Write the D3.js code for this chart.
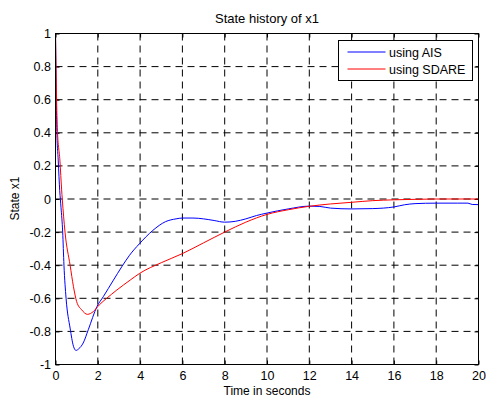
<!DOCTYPE html>
<html>
<head>
<meta charset="utf-8">
<script src="https://cdn.jsdelivr.net/npm/d3@7"></script>
<style>
    body { margin: 0; background: #fff; }
    svg { display: block; font-family: "Liberation Sans", Arial, sans-serif; }
</style>
</head>
<body>
<div id="chart"></div>
<script>
const aisTime = [0, 0.06, 0.13, 0.2, 0.26, 0.34, 0.4, 0.5, 0.69, 0.85, 0.97, 1.1, 1.31, 1.55, 1.96, 2.26, 2.74, 3.13, 3.5, 3.97, 4.6, 5.2, 5.7, 6, 6.5, 7, 7.5, 8, 8.5, 9, 9.5, 10, 11, 12, 12.5, 13, 14, 15, 16, 16.5, 17, 18, 19, 19.5, 19.7, 20];
const aisState = [1, 0.43, 0.23, 0.05, -0.05, -0.2, -0.4, -0.6, -0.78, -0.89, -0.915, -0.905, -0.87, -0.79, -0.65, -0.59, -0.49, -0.41, -0.34, -0.27, -0.19, -0.137, -0.12, -0.115, -0.115, -0.12, -0.13, -0.14, -0.135, -0.12, -0.1, -0.085, -0.06, -0.043, -0.045, -0.055, -0.06, -0.058, -0.048, -0.035, -0.028, -0.025, -0.025, -0.025, -0.033, -0.034];

const sdareTime = [0, 0.085, 0.21, 0.29, 0.32, 0.45, 0.69, 0.85, 1.0, 1.24, 1.51, 1.79, 2.07, 2.42, 2.9, 3.53, 3.97, 5, 6, 7, 8, 9, 10, 11, 12, 13, 14, 15, 16, 17, 18, 20];
const sdareState = [1, 0.43, 0.23, 0.055, 0, -0.2, -0.4, -0.53, -0.62, -0.67, -0.697, -0.68, -0.64, -0.6, -0.55, -0.49, -0.45, -0.385, -0.33, -0.265, -0.2, -0.14, -0.093, -0.065, -0.044, -0.03, -0.02, -0.01, -0.005, -0.002, 0, 0];

const xTicks = [0, 2, 4, 6, 8, 10, 12, 14, 16, 18, 20];
const yTicks = [-1, -0.8, -0.6, -0.4, -0.2, 0, 0.2, 0.4, 0.6, 0.8, 1];
const seriesNames = ['using AIS', 'using SDARE'];
const seriesColors = ['#0000ff', '#ff0000'];

const width = 487;
const height = 396;
const margin = { top: 33.5, right: 8.5, bottom: 31.5, left: 55.5 };

const svg = d3.select('#chart')
    .append('svg')
    .attr('width', width)
    .attr('height', height)
    .attr('viewBox', [0, 0, width, height]);

const x = d3.scaleLinear().domain([0, 20]).range([margin.left, width - margin.right]);
const y = d3.scaleLinear().domain([-1, 1]).range([height - margin.bottom, margin.top]);

// dashed grid
const grid = svg.append('g')
    .attr('stroke', '#000')
    .attr('stroke-width', 1)
    .attr('stroke-dasharray', '7,5');

grid.selectAll('.gx')
    .data(xTicks.slice(1, -1))
    .join('line')
    .attr('x1', d => x(d)).attr('x2', d => x(d))
    .attr('y1', y(1)).attr('y2', y(-1));

grid.selectAll('.gy')
    .data(yTicks.slice(1, -1))
    .join('line')
    .attr('y1', d => y(d)).attr('y2', d => y(d))
    .attr('x1', x(0)).attr('x2', x(20));

// axes (ticks point inward, like MATLAB)
const tickLen = 4;
const plain = d => String(d);

svg.append('g')
    .attr('transform', `translate(0,${y(-1)})`)
    .call(d3.axisBottom(x).tickValues(xTicks).tickFormat(plain).tickSizeInner(-tickLen).tickSizeOuter(0).tickPadding(6.5))
    .call(g => g.select('.domain').remove());

svg.append('g')
    .attr('transform', `translate(0,${y(1)})`)
    .call(d3.axisTop(x).tickValues(xTicks).tickSizeInner(-tickLen).tickSizeOuter(0).tickFormat(''))
    .call(g => g.select('.domain').remove());

svg.append('g')
    .attr('transform', `translate(${x(0)},0)`)
    .call(d3.axisLeft(y).tickValues(yTicks).tickFormat(plain).tickSizeInner(-tickLen).tickSizeOuter(0).tickPadding(4.5))
    .call(g => g.select('.domain').remove());

svg.append('g')
    .attr('transform', `translate(${x(20)},0)`)
    .call(d3.axisRight(y).tickValues(yTicks).tickSizeInner(-tickLen).tickSizeOuter(0).tickFormat(''))
    .call(g => g.select('.domain').remove());

svg.selectAll('.tick text')
    .attr('font-size', 12.5)
    .attr('fill', '#000')
    .attr('font-family', '"Liberation Sans", Arial, sans-serif');
svg.selectAll('.tick line').attr('stroke', '#000');

// curves
const line = d3.line()
    .x(d => x(d[0]))
    .y(d => y(d[1]))
    .curve(d3.curveMonotoneX);

const series = [
    d3.zip(aisTime, aisState),
    d3.zip(sdareTime, sdareState)
];

svg.append('g')
    .attr('fill', 'none')
    .attr('stroke-width', 1)
    .selectAll('path')
    .data(series)
    .join('path')
    .attr('stroke', (d, i) => seriesColors[i])
    .attr('d', line);

// plot box
svg.append('rect')
    .attr('x', x(0))
    .attr('y', y(1))
    .attr('width', x(20) - x(0))
    .attr('height', y(-1) - y(1))
    .attr('fill', 'none')
    .attr('stroke', '#000')
    .attr('stroke-width', 1);

// legend
const legend = svg.append('g').attr('transform', 'translate(338.5,40.5)');
legend.append('rect')
    .attr('width', 134)
    .attr('height', 40)
    .attr('fill', '#fff')
    .attr('stroke', '#000');

const items = legend.selectAll('g')
    .data(seriesNames)
    .join('g')
    .attr('transform', (d, i) => `translate(0,${11.5 + i * 17})`);

items.append('line')
    .attr('x1', 9).attr('x2', 47)
    .attr('stroke', (d, i) => seriesColors[i]);

items.append('text')
    .attr('x', 50.5)
    .attr('y', 4.5)
    .attr('font-size', 12.5)
    .text(d => d);

// labels
svg.append('text')
    .attr('x', (x(0) + x(20)) / 2)
    .attr('y', 23.3)
    .attr('text-anchor', 'middle')
    .attr('font-size', 13)
    .text('State history of x1');

svg.append('text')
    .attr('x', (x(0) + x(20)) / 2)
    .attr('y', 394.5)
    .attr('text-anchor', 'middle')
    .attr('font-size', 12)
    .text('Time in seconds');

svg.append('text')
    .attr('transform', `translate(18.5,198.5) rotate(-90)`)
    .attr('text-anchor', 'middle')
    .attr('font-size', 12)
    .text('State x1');
</script>
</body>
</html>
